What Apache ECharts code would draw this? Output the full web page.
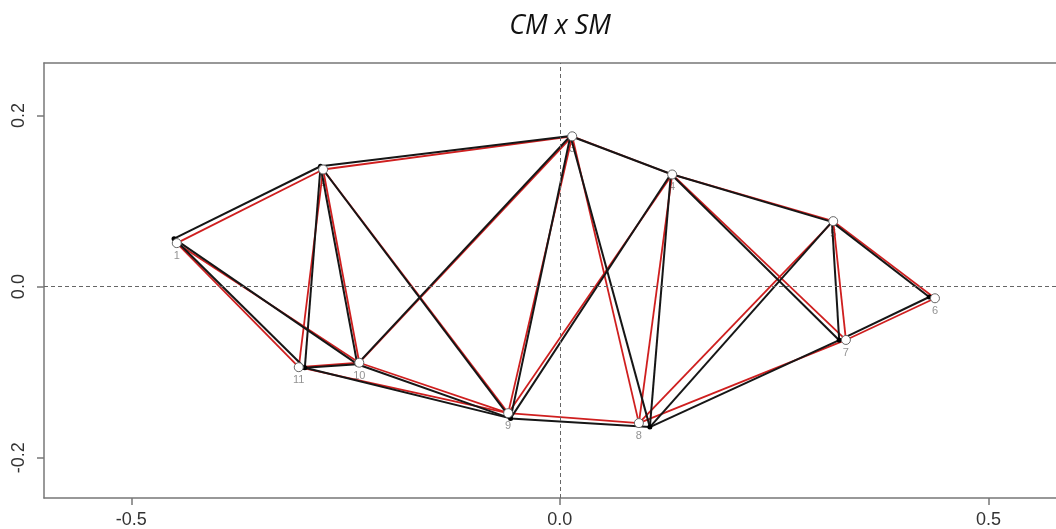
<!DOCTYPE html>
<html>
<head>
<meta charset="utf-8">
<script src="https://cdn.jsdelivr.net/npm/echarts@6/dist/echarts.min.js"></script>
<style>
html,body{margin:0;padding:0;background:#fff;}
#chart{width:1056px;height:529px;}
</style>
</head>
<body>
<div id="chart"></div>
<script>
// ---- data ----
const nodeLabels = ['1','2','3','4','5','6','7','8','9','10','11'];
// configuration drawn with open circles (red network)
const redX = [-0.4469, -0.2762, 0.0144, 0.1310, 0.3189, 0.4376, 0.3337, 0.0922, -0.0603, -0.2340, -0.3046];
const redY = [ 0.0508,  0.1368, 0.1756, 0.1310, 0.0765, -0.0136, -0.0623, -0.1594, -0.1478, -0.0889, -0.0941];
// configuration drawn with filled dots (black network)
const blackX = [-0.4501, -0.2792, 0.0123, 0.1295, 0.3174, 0.4309, 0.3259, 0.1050, -0.0575, -0.2363, -0.2975];
const blackY = [ 0.0560,  0.1406, 0.1759, 0.1315, 0.0756, -0.0121, -0.0626, -0.1641, -0.1539, -0.0906, -0.0947];
// edges (1-based node numbers)
const edges = [
  [1,2],[1,10],[1,11],
  [2,3],[2,9],[2,10],[2,11],
  [3,4],[3,8],[3,9],[3,10],
  [4,5],[4,7],[4,8],[4,9],
  [5,6],[5,7],[5,8],
  [6,7],[7,8],[8,9],
  [9,10],[9,11],[10,11]
];
const xTicks = [-0.5, 0.0, 0.5];
const yTicks = [-0.2, 0.0, 0.2];
const titleText = 'CM x SM';

// ---- build ----
function edgeData(X, Y) {
  return edges.map(([a, b]) => ({ coords: [[X[a-1], Y[a-1]], [X[b-1], Y[b-1]]] }));
}
const redPts = redX.map((x, i) => ({ value: [x, redY[i]], name: nodeLabels[i] }));
const blackPts = blackX.map((x, i) => [x, blackY[i]]);

const chart = echarts.init(document.getElementById('chart'), null, { renderer: 'canvas' });
const axisLabelStyle = { color: '#333', fontSize: 18, fontFamily: 'Liberation Sans, Arial, sans-serif' };
const frame = { color: '#777', width: 1.5 };

chart.setOption({
  animation: false,
  backgroundColor: '#ffffff',
  graphic: [{
    type: 'text', x: 560, y: 26, silent: true,
    style: {
      text: titleText, align: 'center', verticalAlign: 'middle',
      font: 'italic 27px "Open Sans", sans-serif', fill: '#111'
    }
  }],
  grid: { left: 44, top: 63, bottom: 25, right: 0, show: false },
  xAxis: [{
    type: 'value', min: -0.6018, max: 0.5788,
    splitLine: { show: false },
    axisLine: { show: true, onZero: false, lineStyle: frame },
    axisTick: { show: true, length: 7, customValues: xTicks, lineStyle: frame },
    axisLabel: { customValues: xTicks, margin: 13, formatter: v => v.toFixed(1), ...axisLabelStyle }
  }, {
    type: 'value', position: 'top', min: -0.6018, max: 0.5788,
    splitLine: { show: false },
    axisLine: { show: true, onZero: false, lineStyle: frame },
    axisTick: { show: false }, axisLabel: { show: false }
  }],
  yAxis: {
    type: 'value', min: -0.2469, max: 0.2612,
    splitLine: { show: false },
    axisLine: { show: true, onZero: false, lineStyle: frame },
    axisTick: { show: true, length: 7, customValues: yTicks, lineStyle: frame },
    axisLabel: { customValues: yTicks, rotate: 90, margin: 16, formatter: v => v.toFixed(1), ...axisLabelStyle }
  },
  series: [
    {
      type: 'scatter', z: 1, silent: true, symbolSize: 0, data: [[0, 0]],
      markLine: {
        silent: true, symbol: 'none', label: { show: false },
        lineStyle: { color: '#666', type: [4, 3], width: 1 },
        data: [{ xAxis: 0 }, { yAxis: 0 }]
      }
    },
    {
      // node numbers (drawn beneath the networks)
      type: 'scatter', z: 1, silent: true, symbolSize: 9,
      itemStyle: { color: 'rgba(0,0,0,0)' },
      label: {
        show: true, position: 'bottom', distance: 3, formatter: p => p.name,
        color: '#777', fontSize: 11, fontFamily: 'Liberation Sans, Arial, sans-serif'
      },
      data: redPts
    },
    {
      type: 'lines', coordinateSystem: 'cartesian2d', z: 2, silent: true,
      lineStyle: { color: '#cf1f1f', width: 1.8, opacity: 1 },
      data: edgeData(redX, redY)
    },
    {
      type: 'lines', coordinateSystem: 'cartesian2d', z: 3, silent: true,
      lineStyle: { color: '#161616', width: 2, opacity: 1 },
      data: edgeData(blackX, blackY)
    },
    {
      type: 'scatter', z: 4, silent: true, symbol: 'circle', symbolSize: 5,
      itemStyle: { color: '#000', opacity: 1 },
      data: blackPts
    },
    {
      type: 'scatter', z: 5, silent: true, symbol: 'circle', symbolSize: 9,
      itemStyle: { color: '#fff', borderColor: '#666', borderWidth: 1, opacity: 1 },
      data: redPts
    }
  ]
});
</script>
</body>
</html>
